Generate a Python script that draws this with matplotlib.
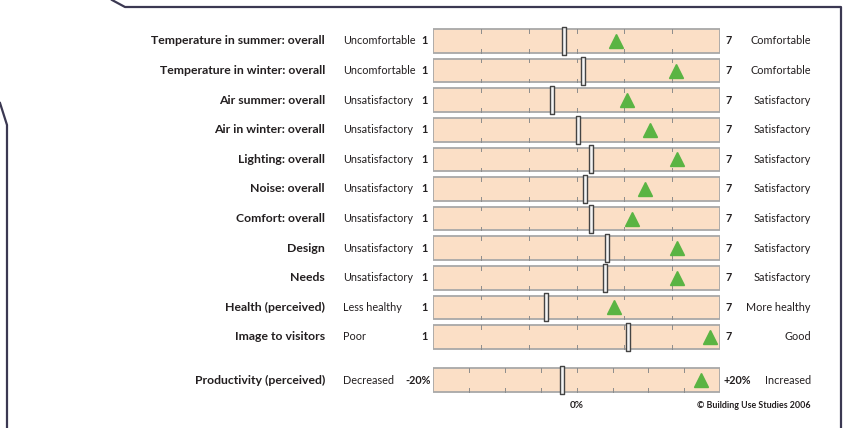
import numpy as np
import matplotlib.pyplot as plt
from matplotlib.lines import Line2D
from matplotlib.path import Path
import matplotlib.transforms as mtransforms

# data
rows = ["Temperature in summer: overall", "Temperature in winter: overall",
        "Air summer: overall", "Air in winter: overall", "Lighting: overall",
        "Noise: overall", "Comfort: overall", "Design", "Needs",
        "Health (perceived)", "Image to visitors"]
low_labels = ["Uncomfortable", "Uncomfortable", "Unsatisfactory", "Unsatisfactory",
              "Unsatisfactory", "Unsatisfactory", "Unsatisfactory", "Unsatisfactory",
              "Unsatisfactory", "Less healthy", "Poor"]
high_labels = ["Comfortable", "Comfortable", "Satisfactory", "Satisfactory",
               "Satisfactory", "Satisfactory", "Satisfactory", "Satisfactory",
               "Satisfactory", "More healthy", "Good"]
benchmark = [3.74, 4.13, 3.49, 4.03, 4.30, 4.17, 4.30, 4.63, 4.59, 3.36, 5.08]
score = [4.82, 6.08, 5.05, 5.53, 6.10, 5.42, 5.16, 6.10, 6.10, 4.77, 6.79]

prod_label = "Productivity (perceived)"
prod_benchmark = -2.0
prod_score = 17.4

W, H = 845, 428
fig = plt.figure(figsize=(W / 100, H / 100), dpi=100)
fig.patch.set_facecolor("white")
plt.rcParams['font.family'] = ['Lato', 'DejaVu Sans']

bar_fill = "#fbdfc6"
bar_edge = "#a8a8a8"
tick_col = "#8c8c8c"
green = "#5ab443"
txt = "#231f20"
fs_bold = 8.8
fs = 7.8

# vertical bar marker for the benchmark
rect = Path([(-0.16, -1), (0.16, -1), (0.16, 1), (-0.16, 1), (-0.16, -1)],
            [Path.MOVETO, Path.LINETO, Path.LINETO, Path.LINETO, Path.CLOSEPOLY])

x0, x1 = 433.5, 720.0
row_top, row_step = 26.2, 29.6
n = len(rows)

ax = fig.add_axes([x0 / W, 1 - (row_top + n * row_step) / H, (x1 - x0) / W, n * row_step / H])
ax.set_xlim(1, 7)
ax.set_ylim(n - 0.5, -0.5)
ax.axis("off")

bh = 0.8
for i in range(n):
    ax.barh(i, 6, left=1, height=bh, color=bar_fill, edgecolor=bar_edge, linewidth=1.3)
    for t in range(2, 7):
        ax.plot([t, t], [i - bh / 2, i - bh / 2 + 0.12], color=tick_col, lw=0.7)
        ax.plot([t, t], [i + bh / 2, i + bh / 2 - 0.12], color=tick_col, lw=0.7)
ax.plot(benchmark, range(n), linestyle="none", marker=rect, markersize=19.5,
        markerfacecolor="#f4f4f4", markeredgecolor="#444444", markeredgewidth=1.0, clip_on=False)
ax.plot(score, range(n), linestyle="none", marker="^", markersize=10.5,
        color=green, clip_on=False)

tr = mtransforms.blended_transform_factory(fig.transFigure, ax.transData)
for i in range(n):
    ax.text(325 / W, i, rows[i], transform=tr, ha="right", va="center",
            fontsize=fs_bold, fontweight="bold", color=txt)
    ax.text(343 / W, i, low_labels[i], transform=tr, ha="left", va="center",
            fontsize=fs, color=txt)
    ax.text(428 / W, i, "1", transform=tr, ha="right", va="center",
            fontsize=fs, color=txt, fontweight="bold")
    ax.text(726 / W, i, "7", transform=tr, ha="left", va="center",
            fontsize=fs, color=txt, fontweight="bold")
    ax.text(811 / W, i, high_labels[i], transform=tr, ha="right", va="center",
            fontsize=fs, color=txt)

# productivity row, its own -20..+20 scale
py = 380
ax2 = fig.add_axes([x0 / W, 1 - (py + row_step / 2) / H, (x1 - x0) / W, row_step / H])
ax2.set_xlim(-20, 20)
ax2.set_ylim(0.5, -0.5)
ax2.axis("off")
ax2.barh(0, 40, left=-20, height=bh, color=bar_fill, edgecolor=bar_edge, linewidth=1.3)
for t in range(-15, 20, 5):
    ax2.plot([t, t], [-bh / 2, -bh / 2 + 0.12], color=tick_col, lw=0.7)
    ax2.plot([t, t], [bh / 2, bh / 2 - 0.12], color=tick_col, lw=0.7)
ax2.plot([prod_benchmark], [0], linestyle="none", marker=rect, markersize=19.5,
         markerfacecolor="#f4f4f4", markeredgecolor="#444444", markeredgewidth=1.0, clip_on=False)
ax2.plot([prod_score], [0], linestyle="none", marker="^", markersize=10.5,
         color=green, clip_on=False)

tr2 = mtransforms.blended_transform_factory(fig.transFigure, ax2.transData)
ax2.text(325 / W, 0, prod_label, transform=tr2, ha="right", va="center",
         fontsize=fs_bold, fontweight="bold", color=txt)
ax2.text(343 / W, 0, "Decreased", transform=tr2, ha="left", va="center", fontsize=fs, color=txt)
ax2.text(431 / W, 0, "-20%", transform=tr2, ha="right", va="center", fontsize=fs,
         color=txt, fontweight="bold")
ax2.text(724 / W, 0, "+20%", transform=tr2, ha="left", va="center", fontsize=fs,
         color=txt, fontweight="bold")
ax2.text(811 / W, 0, "Increased", transform=tr2, ha="right", va="center", fontsize=fs, color=txt)

fig.text(577 / W, 1 - 405 / H, "0%", ha="center", va="center", fontsize=7.2,
         fontweight="bold", color=txt)
fig.text(811 / W, 1 - 405 / H, "\u00a9 Building Use Studies 2006", ha="right", va="center",
         fontsize=6.4, fontweight="bold", color=txt)

# the frame around the panel
frame = "#3b3852"
fig.add_artist(Line2D(np.array([112, 125, 841, 841]) / W, 1 - np.array([0, 7, 7, 428]) / H,
                      transform=fig.transFigure, color=frame, lw=1.6))
fig.add_artist(Line2D(np.array([0, 7, 7]) / W, 1 - np.array([103, 125, 428]) / H,
                      transform=fig.transFigure, color=frame, lw=1.6))

fig.savefig("out.png", dpi=100, facecolor="white")
